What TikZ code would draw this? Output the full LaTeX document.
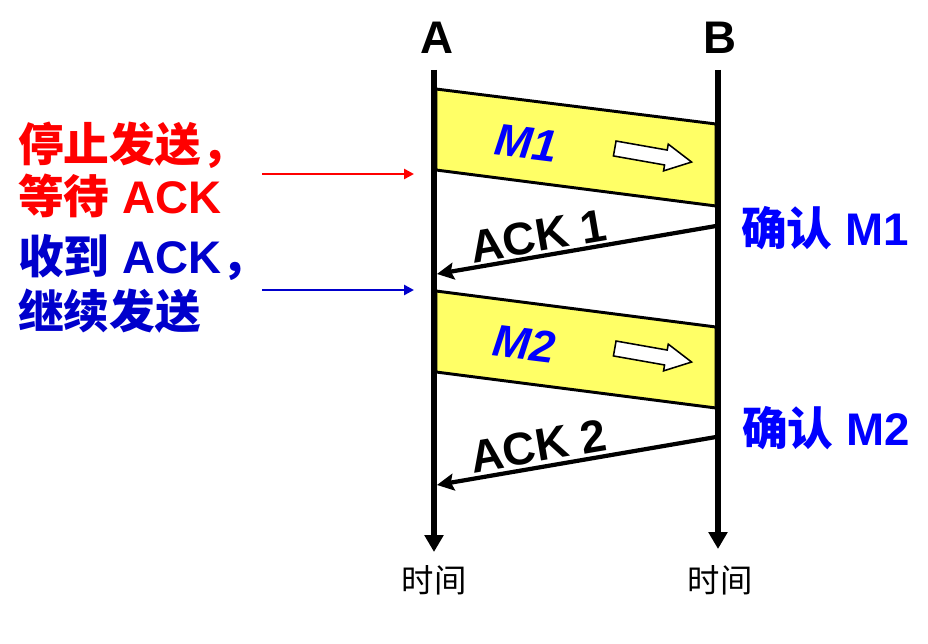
\documentclass[tikz,border=0pt]{standalone}
\usepackage{fontspec}
\setmainfont{Liberation Sans}
\newfontfamily\cjk{Noto Sans CJK SC}
\usetikzlibrary{arrows.meta, shapes.arrows}
\definecolor{MsgYellow}{RGB}{255, 255, 102}
\definecolor{AckBlue}{RGB}{0, 0, 255}
\definecolor{NoteBlue}{RGB}{0, 0, 204}
\definecolor{NoteRed}{RGB}{255, 0, 0}

\tikzset{
  big/.style={font=\fontsize{32.5}{38}\selectfont\bfseries, inner sep=0pt},
  msgtext/.style={font=\fontsize{32}{36}\selectfont\bfseries\itshape, AckBlue, inner sep=0pt},
  tlabel/.style={font=\cjk\fontsize{23}{26}\selectfont, inner sep=0pt},
  timeline/.style={line width=4pt, -{Triangle[length=12pt, width=13pt]}},
  msgbox/.style={fill=MsgYellow, draw=black, line width=2.1pt, line join=miter},
  ackline/.style={line width=3pt, -{Stealth[length=12pt, width=12pt, inset=2pt]}},
  note/.style={line width=2pt, -{Triangle[length=7pt, width=7pt]}},
  fwd/.style={single arrow, draw=black, fill=white, line width=1.1pt,
    minimum height=1.95cm, minimum width=0.64cm, inner xsep=0pt, inner ysep=0.17cm,
    single arrow head extend=0.15cm, single arrow tip angle=55}
}

\begin{document}
\begin{tikzpicture}[x=0.025cm, y=-0.025cm]
    \useasboundingbox (0, 0) rectangle (928, 644);

    % Frames (drawn first, timelines go on top)
    \filldraw[msgbox] (436, 89) -- (716, 124) -- (716, 206) -- (436, 170) -- cycle;
    \filldraw[msgbox] (436, 291) -- (716, 327) -- (716, 408) -- (436, 372) -- cycle;

    % Stations and timelines
    \node[big] (A) at (437, 38) {A};
    \node[big] (B) at (720, 38) {B};
    \coordinate (Atop) at (434, 70);
    \coordinate (Abot) at (434, 552);
    \coordinate (Btop) at (718, 70);
    \coordinate (Bbot) at (718, 549);
    \draw[timeline] (Atop) -- (Abot);
    \draw[timeline] (Btop) -- (Bbot);
    \node[tlabel] (tA) at (434, 580) {时间};
    \node[tlabel] (tB) at (720, 580) {时间};

    % Frame labels
    \node[msgtext, rotate=-7] (m1) at (526, 143) {M1};
    \node[msgtext, rotate=-7] (m2) at (524, 344) {M2};
    \node[fwd, rotate=-10] (fw1) at (646, 154) {};
    \node[fwd, rotate=-10] (fw2) at (646, 354) {};

    % Acknowledgements
    \coordinate (ack1s) at (716, 226);
    \coordinate (ack1e) at (437, 274);
    \draw[ackline] (ack1s) -- (ack1e);
    \node[big, rotate=9.7] (ack1) at (538, 236) {ACK 1};
    \coordinate (ack2s) at (716, 437);
    \coordinate (ack2e) at (437, 485);
    \draw[ackline] (ack2s) -- (ack2e);
    \node[big, rotate=9.7] (ack2) at (538, 446) {ACK 2};
    \node[big, AckBlue] (ok1) at (825, 228) {{\cjk 确认} M1};
    \node[big, AckBlue] (ok2) at (826, 428) {{\cjk 确认} M2};

    % Notes on the left
    \node[big, NoteRed, anchor=west] (stop1) at (18, 145) {\cjk 停止发送，};
    \node[big, NoteRed, anchor=west] (stop2) at (18, 196) {{\cjk 等待} ACK};
    \node[big, NoteBlue, anchor=west] (go1) at (18, 257) {{\cjk 收到} ACK{\cjk ，}};
    \node[big, NoteBlue, anchor=west] (go2) at (18, 311) {\cjk 继续发送};
    \coordinate (stopS) at (262, 174);
    \coordinate (stopE) at (414, 174);
    \coordinate (goS) at (262, 290);
    \coordinate (goE) at (414, 290);
    \draw[note, NoteRed] (stopS) -- (stopE);
    \draw[note, NoteBlue] (goS) -- (goE);
\end{tikzpicture}
\end{document}
